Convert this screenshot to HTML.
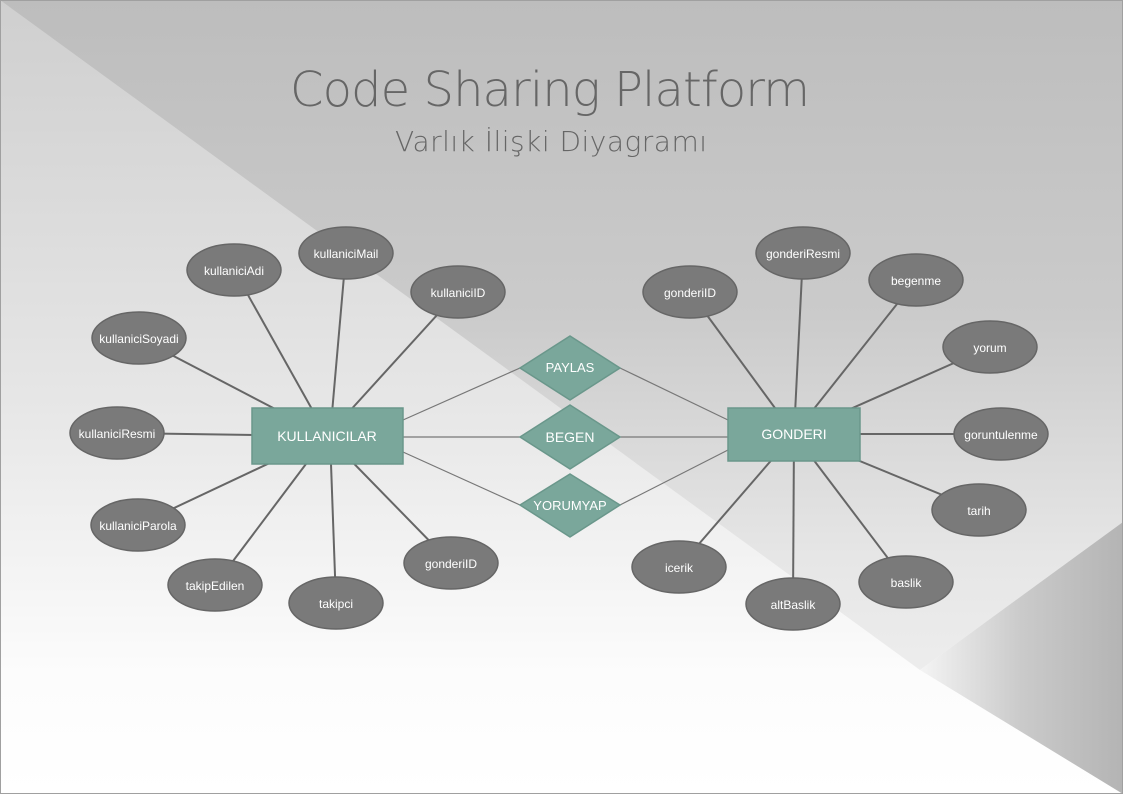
<!DOCTYPE html>
<html><head><meta charset="utf-8"><style>
html,body{margin:0;padding:0;width:1123px;height:794px;overflow:hidden;background:#fff}
svg{display:block}
text{font-family:"Liberation Sans Narrow","Liberation Sans",sans-serif}
</style></head><body>
<svg width="1123" height="794" viewBox="0 0 1123 794" xmlns="http://www.w3.org/2000/svg">
<defs>
<linearGradient id="lo" gradientUnits="userSpaceOnUse" x1="0" y1="0" x2="0" y2="794">
<stop offset="0" stop-color="#cfcfcf"/><stop offset="0.5" stop-color="#e6e6e6"/><stop offset="0.85" stop-color="#fcfcfc"/><stop offset="1" stop-color="#ffffff"/></linearGradient>
<linearGradient id="up" gradientUnits="userSpaceOnUse" x1="0" y1="0" x2="0" y2="794">
<stop offset="0" stop-color="#bdbdbd"/><stop offset="0.4" stop-color="#cbcbcb"/><stop offset="0.7" stop-color="#e6e6e6"/><stop offset="1" stop-color="#f4f4f4"/></linearGradient>
<linearGradient id="rt" gradientUnits="userSpaceOnUse" x1="1123" y1="0" x2="920" y2="0">
<stop offset="0" stop-color="#b4b4b4"/><stop offset="0.5" stop-color="#cacaca"/><stop offset="1" stop-color="#f4f4f4"/></linearGradient>
</defs>
<rect width="1123" height="794" fill="url(#lo)"/>
<polygon points="0,0 1123,0 1123,522 920,670" fill="url(#up)"/>
<polygon points="1123,522 920,670 1123,794" fill="url(#rt)"/>
<rect x="0.5" y="0.5" width="1122" height="793" fill="none" stroke="#a0a0a0"/>
<text x="550" y="106" text-anchor="middle" font-size="48" fill="#666" style="font-family:'DejaVu Sans','Liberation Sans',sans-serif;font-weight:200" textLength="520">Code Sharing Platform</text>
<text x="551" y="151" text-anchor="middle" font-size="28" fill="#666" style="font-family:'DejaVu Sans','Liberation Sans',sans-serif;font-weight:200" textLength="312">Varlık İlişki Diyagramı</text>
<g stroke="#666" stroke-width="2">
<line x1="327" y1="436" x2="234" y2="270"/><line x1="330" y1="436" x2="346" y2="253"/><line x1="327" y1="436" x2="458" y2="292"/>
<line x1="327" y1="436" x2="139" y2="338"/><line x1="327" y1="436" x2="117" y2="433"/><line x1="327" y1="436" x2="138" y2="525"/>
<line x1="327" y1="436" x2="215" y2="585"/><line x1="330" y1="436" x2="336" y2="603"/><line x1="327" y1="436" x2="451" y2="563"/>
<line x1="794" y1="434" x2="690" y2="292"/><line x1="794" y1="434" x2="803" y2="253"/><line x1="794" y1="434" x2="916" y2="280"/>
<line x1="794" y1="434" x2="990" y2="347"/><line x1="794" y1="434" x2="1001" y2="434"/><line x1="794" y1="434" x2="979" y2="510"/>
<line x1="794" y1="434" x2="906" y2="582"/><line x1="794" y1="434" x2="793" y2="604"/><line x1="794" y1="434" x2="679" y2="567"/>
</g>
<g stroke="#777" stroke-width="1.2">
<line x1="403" y1="420" x2="520" y2="368"/><line x1="620" y1="368" x2="728" y2="420"/>
<line x1="403" y1="437" x2="520" y2="437"/><line x1="620" y1="437" x2="728" y2="437"/>
<line x1="403" y1="452" x2="520" y2="505"/><line x1="620" y1="505" x2="728" y2="450"/>
</g>
<g fill="#7a7a7a" stroke="#666" stroke-width="1.5">
<ellipse cx="234" cy="270" rx="47" ry="26"/><ellipse cx="346" cy="253" rx="47" ry="26"/><ellipse cx="458" cy="292" rx="47" ry="26"/>
<ellipse cx="139" cy="338" rx="47" ry="26"/><ellipse cx="117" cy="433" rx="47" ry="26"/><ellipse cx="138" cy="525" rx="47" ry="26"/>
<ellipse cx="215" cy="585" rx="47" ry="26"/><ellipse cx="336" cy="603" rx="47" ry="26"/><ellipse cx="451" cy="563" rx="47" ry="26"/>
<ellipse cx="690" cy="292" rx="47" ry="26"/><ellipse cx="803" cy="253" rx="47" ry="26"/><ellipse cx="916" cy="280" rx="47" ry="26"/>
<ellipse cx="990" cy="347" rx="47" ry="26"/><ellipse cx="1001" cy="434" rx="47" ry="26"/><ellipse cx="979" cy="510" rx="47" ry="26"/>
<ellipse cx="906" cy="582" rx="47" ry="26"/><ellipse cx="793" cy="604" rx="47" ry="26"/><ellipse cx="679" cy="567" rx="47" ry="26"/>
</g>
<g fill="#7aa79b" stroke="#6a978b" stroke-width="1.5">
<rect x="252" y="408" width="151" height="56"/><rect x="728" y="408" width="132" height="53"/>
<polygon points="570,336 620,368 570,400 520,368"/><polygon points="570,405 620,437 570,469 520,437"/><polygon points="570,474 620,505 570,537 520,505"/>
</g>
<g fill="#fff" font-size="12" text-anchor="middle">
<text x="234" y="275">kullaniciAdi</text><text x="346" y="258">kullaniciMail</text><text x="458" y="297">kullaniciID</text>
<text x="139" y="343">kullaniciSoyadi</text><text x="117" y="438">kullaniciResmi</text><text x="138" y="530">kullaniciParola</text>
<text x="215" y="590">takipEdilen</text><text x="336" y="608">takipci</text><text x="451" y="568">gonderiID</text>
<text x="690" y="297">gonderiID</text><text x="803" y="258">gonderiResmi</text><text x="916" y="285">begenme</text>
<text x="990" y="352">yorum</text><text x="1001" y="439">goruntulenme</text><text x="979" y="515">tarih</text>
<text x="906" y="587">baslik</text><text x="793" y="609">altBaslik</text><text x="679" y="572">icerik</text>
<text x="327" y="441" font-size="14">KULLANICILAR</text><text x="794" y="439" font-size="14">GONDERI</text>
<text x="570" y="372" font-size="13">PAYLAS</text><text x="570" y="442" font-size="14">BEGEN</text><text x="570" y="510" font-size="13">YORUMYAP</text>
</g>
</svg>
</body></html>
